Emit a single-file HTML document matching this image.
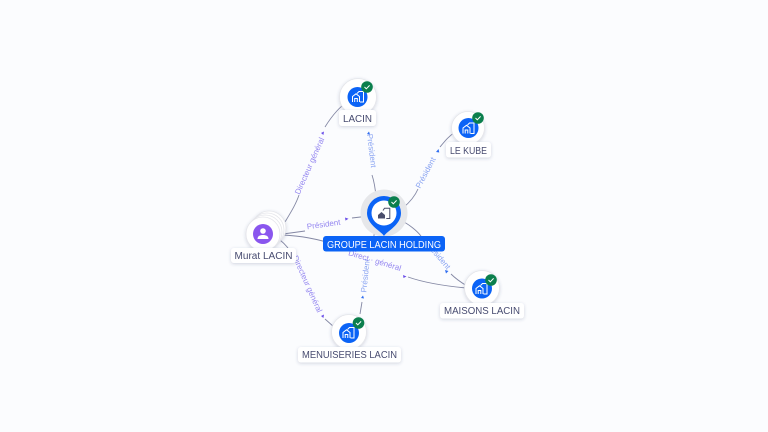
<!DOCTYPE html>
<html><head><meta charset="utf-8"><style>
html,body{margin:0;padding:0;background:#fbfcfe}
svg{display:block}
text{font-family:"Liberation Sans",sans-serif}
.n{font-size:10px;fill:#474b70;text-anchor:middle}
.e{font-size:8px;fill:#9486f0;text-anchor:middle}
.b{font-size:8px;fill:#8aa4f2;text-anchor:middle}
.l{fill:none;stroke:#8488a4;stroke-width:.9}
</style></head><body>
<svg width="768" height="432" viewBox="0 0 768 432" xmlns="http://www.w3.org/2000/svg">
<defs>
<filter id="s" x="-40%" y="-40%" width="180%" height="180%"><feDropShadow dx="0" dy="1" stdDeviation="1.6" flood-color="#3a4070" flood-opacity=".22"/></filter>
<g id="home" fill="none" stroke="#fff" stroke-width="1"><path d="M-5.500 5V-.5L-2 -3.200 1.500 -.5V5M-3.300 5V1.500H-.7V5"/><path d="M-1 -3.500L1 -5.500H5.500V5H2"/></g>
<g id="ok"><circle r="5.800" fill="#0b7f4d"/><path d="M-2.500 0L-.7 1.800 2.600 -1.600" fill="none" stroke="#fff" stroke-width="1"/></g>
</defs>
<rect width="768" height="432" fill="#fbfcfe"/>

<path class="l" d="M285 222C291 212 296 204 299 195"/>
<path class="l" d="M325 127C333 114 341 106 346 103"/>
<path class="l" d="M376 197C375 185 373 178 372 175"/>
<path class="l" d="M403 208C410 202 415 196 418 189"/>
<path class="l" d="M440 147C445 141 449 136 454 133"/>
<path class="l" d="M400 220C409 224 417 231 421 236"/>
<path class="l" d="M451 274C456 279 462 283 467 286"/>
<path class="l" d="M283 234L305 231"/>
<path class="l" d="M352 218L369 216"/>
<path class="l" d="M283 235C300 236 315 238 340 246"/>
<path class="l" d="M408 277C425 283 445 286 466 288"/>
<path class="l" d="M280 240C285 244 290 250 293 256"/>
<path class="l" d="M325 319L334 327"/>
<path class="l" d="M375 228L372 250"/>
<path class="l" d="M362 302L360 314"/>

<g fill="#6a4ee8">
<path d="M321 133l3-1.500-.6 3.500z"/><path d="M345 217.500l3.500 1.300-3 1.800z"/><path d="M321 316l3-1.500-.6 3.500z"/><path d="M403 275l3.500 1.500-3 1.500z"/>
</g>
<g fill="#2f6df0">
<path d="M367 134l2-2.500 1 3z"/><path d="M436 152l2.500-3 .8 3.500z"/><path d="M445 270l3.500 1-2.500 2.500z"/><path d="M361 298l2-2.500 1 3z"/>
</g>

<text class="e" transform="translate(312 167) rotate(-66)">Directeur général</text>
<text class="b" transform="translate(369 151) rotate(83)">Président</text>
<text class="b" transform="translate(428 174) rotate(-62)">Président</text>
<text class="e" transform="translate(324 227) rotate(-8)">Président</text>
<text class="e" transform="translate(305 285) rotate(66)">Directeur général</text>
<text class="b" transform="translate(368 276) rotate(-84)">Président</text>
<text class="b" transform="translate(436 257) rotate(50)">Président</text>
<text class="e" transform="translate(374 263) rotate(17)">Direct · général</text>

<!-- Murat -->
<g filter="url(#s)" fill="#fff" stroke="#e4e5ea" stroke-width=".8">
<circle cx="269" cy="228" r="17"/><circle cx="267" cy="230" r="17"/><circle cx="265" cy="232" r="17"/><circle cx="263" cy="234" r="17"/>
</g>
<circle cx="263" cy="234" r="10" fill="#8a56ee"/>
<circle cx="263" cy="231" r="2.800" fill="#fff"/>
<path d="M257.500 239c0-3 2.500-4 5.500-4s5.500 1 5.500 4z" fill="#fff"/>
<rect x="231" y="248" width="65" height="15" rx="3" fill="#fff" filter="url(#s)"/>
<text class="n" x="263.500" y="259" textLength="58" lengthAdjust="spacingAndGlyphs">Murat LACIN</text>

<!-- LACIN -->
<circle cx="358" cy="97" r="18.500" fill="#fff" stroke="#e4e5ea" stroke-width=".8" filter="url(#s)"/>
<circle cx="357.500" cy="97" r="10" fill="#0b63f6"/>
<use href="#home" x="358" y="97"/>
<use href="#ok" x="367" y="87"/>
<rect x="339" y="110" width="37" height="16" rx="3" fill="#fff" filter="url(#s)"/>
<text class="n" x="357.500" y="122" textLength="29" lengthAdjust="spacingAndGlyphs">LACIN</text>

<!-- LE KUBE -->
<circle cx="468" cy="128" r="16.500" fill="#fff" stroke="#e4e5ea" stroke-width=".8" filter="url(#s)"/>
<circle cx="468.500" cy="128" r="10" fill="#0b63f6"/>
<use href="#home" x="468.500" y="128.500"/>
<use href="#ok" x="478" y="118"/>
<rect x="446" y="142" width="45" height="15.500" rx="3" fill="#fff" filter="url(#s)"/>
<text class="n" x="468.500" y="154" textLength="37" lengthAdjust="spacingAndGlyphs">LE KUBE</text>

<!-- MAISONS -->
<circle cx="482" cy="288" r="17.500" fill="#fff" stroke="#e4e5ea" stroke-width=".8" filter="url(#s)"/>
<circle cx="482" cy="288.500" r="10" fill="#0b63f6"/>
<use href="#home" x="481.500" y="289"/>
<use href="#ok" x="491" y="280"/>
<rect x="440" y="303" width="84" height="15.500" rx="3" fill="#fff" filter="url(#s)"/>
<text class="n" x="482" y="314" textLength="76" lengthAdjust="spacingAndGlyphs">MAISONS LACIN</text>

<!-- MENUISERIES -->
<circle cx="349" cy="332" r="17.500" fill="#fff" stroke="#e4e5ea" stroke-width=".8" filter="url(#s)"/>
<circle cx="349" cy="333" r="10" fill="#0b63f6"/>
<use href="#home" x="348.500" y="333"/>
<use href="#ok" x="358.500" y="323"/>
<rect x="298" y="347" width="103" height="15.500" rx="3" fill="#fff" filter="url(#s)"/>
<text class="n" x="349.500" y="358" textLength="95" lengthAdjust="spacingAndGlyphs">MENUISERIES LACIN</text>

<!-- main -->
<circle cx="384" cy="213" r="23.500" fill="#e6e7ea"/>
<path d="M384 236C381 231 367 225 367 213a17 17 0 0 1 34 0C401 225 387 231 384 236z" fill="#0b63f6"/>
<circle cx="384" cy="213" r="12.500" fill="#fff"/>
<path d="M378 218.500v-3.500l3.500-3 3.500 3v3.500z" fill="#4a4e6c"/>
<path d="M383 210.500l1.500-2.300h5.300v10.300h-3.500" fill="none" stroke="#4a4e6c" stroke-width="1"/>
<use href="#ok" x="394" y="202"/>
<rect x="323" y="236" width="122" height="15.500" rx="3" fill="#0b63f6"/>
<text class="n" style="fill:#fff" x="384" y="248" textLength="114" lengthAdjust="spacingAndGlyphs">GROUPE LACIN HOLDING</text>
</svg>
</body></html>
